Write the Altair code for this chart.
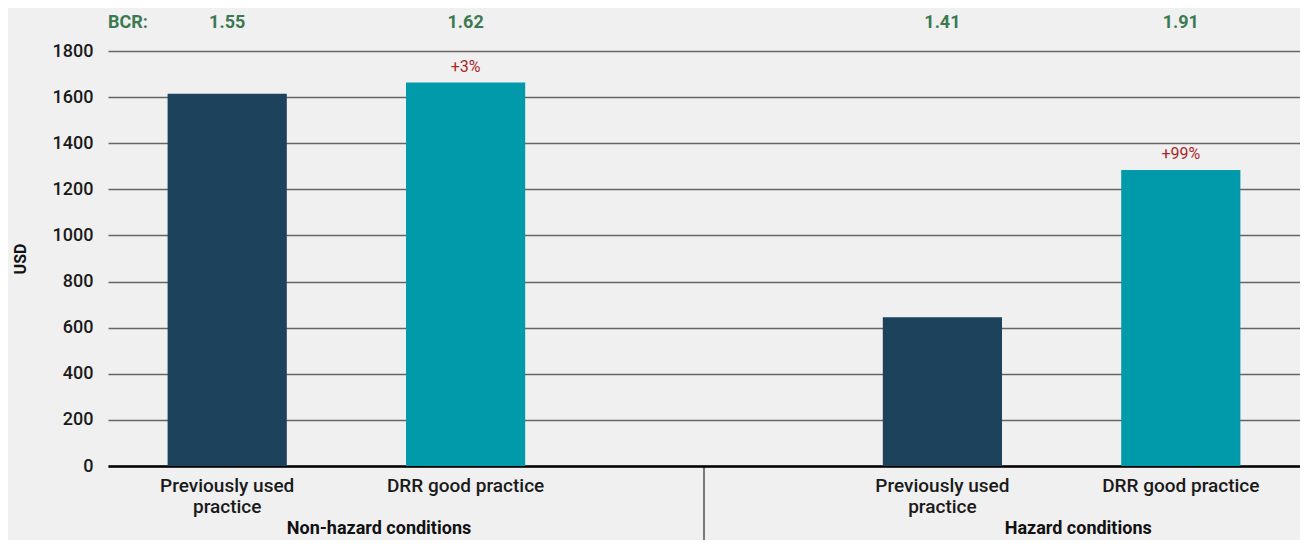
import altair as alt
import pandas as pd

groups = ["Non-hazard conditions", "Non-hazard conditions", "Hazard conditions", "Hazard conditions"]
practices = ["Previously used practice", "DRR good practice", "Previously used practice", "DRR good practice"]
practice_labels = ["Previously used\npractice", "DRR good practice", "Previously used\npractice", "DRR good practice"]
values = [1615, 1663, 645, 1284]
bcr = ["1.55", "1.62", "1.41", "1.91"]
change = ["", "+3%", "", "+99%"]
y_ticks = [0, 200, 400, 600, 800, 1000, 1200, 1400, 1600, 1800]

keys = [f"{g}|{p}" for g, p in zip(groups, practices)]
GAP = " "
domain = keys[:2] + [GAP] + keys[2:]

df = pd.DataFrame({
    "key": keys, "group": groups, "practice": practices,
    "label": practice_labels, "value": values, "bcr": bcr, "change": change,
})

FONT = "Roboto"
W, H = 1192, 415

xs = alt.Scale(domain=domain, paddingInner=0.5, paddingOuter=0.25)
ys = alt.Scale(domain=[0, 1800], nice=False)

x_enc = alt.X("key:N", scale=xs, sort=domain,
              axis=alt.Axis(labels=False, ticks=False, title=None, domain=True,
                            domainColor="#000000", domainWidth=2.5, grid=False))

base = alt.Chart(df)

bars = base.mark_bar().encode(
    x=x_enc,
    y=alt.Y("value:Q", scale=ys,
            axis=alt.Axis(values=y_ticks, format="d", title="USD", titleFontWeight="bold",
                          titleFontSize=16, titleAngle=-90, titleX=-80, titleY=H / 2,
                          titleColor="#111111", titleFont=FONT,
                          labelFontSize=18, labelFontWeight=500, labelColor="#1a1a1a", labelFont=FONT,
                          labelPadding=15, ticks=False, domain=False,
                          grid=True, gridColor="#666666", gridWidth=1.3)),
    color=alt.Color("practice:N", scale=alt.Scale(domain=["Previously used practice", "DRR good practice"],
                                                  range=["#1d435c", "#009aaa"]), legend=None),
)

change_txt = base.mark_text(font=FONT, fontSize=16, color="#a8282a", baseline="bottom", dy=-8).encode(
    x=alt.X("key:N", scale=xs, sort=domain), y=alt.Y("value:Q", scale=ys), text="change:N"
)

bcr_txt = base.mark_text(font=FONT, fontSize=18, fontWeight="bold", color="#3b7a50", baseline="middle").encode(
    x=alt.X("key:N", scale=xs, sort=domain), y=alt.value(-28), text="bcr:N"
)

bcr_head = alt.Chart(pd.DataFrame({"t": ["BCR:"]})).mark_text(
    font=FONT, fontSize=18, fontWeight="bold", color="#3b7a50", baseline="middle", align="left"
).encode(x=alt.value(0), y=alt.value(-28), text="t:N")

cat_txt = base.mark_text(font=FONT, fontSize=19, fontWeight=500, color="#1a1a1a", baseline="alphabetic",
                         lineBreak="\n", lineHeight=21).encode(
    x=alt.X("key:N", scale=xs, sort=domain), y=alt.value(H + 26), text="label:N"
)

grp_df = pd.DataFrame({"key": [keys[1], keys[3]], "group": ["Non-hazard conditions", "Hazard conditions"],
                       "off": [-27, -43]})
grp_txt = alt.Chart(grp_df).mark_text(font=FONT, fontSize=18, fontWeight="bold", color="#111111",
                                      baseline="alphabetic").encode(
    x=alt.X("key:N", scale=xs, sort=domain), xOffset=alt.XOffset("off:Q", scale=None),
    y=alt.value(H + 68), text="group:N"
)

divider = alt.Chart(pd.DataFrame({"key": [GAP]})).mark_rule(color="#000000", strokeWidth=1, clip=False).encode(
    x=alt.X("key:N", scale=xs, sort=domain), y=alt.value(H), y2=alt.value(H + 90)
)

chart = alt.layer(bars, change_txt, bcr_txt, bcr_head, cat_txt, grp_txt, divider).properties(
    width=W, height=H,
    autosize=alt.AutoSizeParams(type="none"),
    padding={"left": 100, "top": 43, "right": 0, "bottom": 74},
).configure(background="#f0f0f0").configure_view(stroke=None)

chart.save("out.html", embed_options={"renderer": "svg", "actions": False})
